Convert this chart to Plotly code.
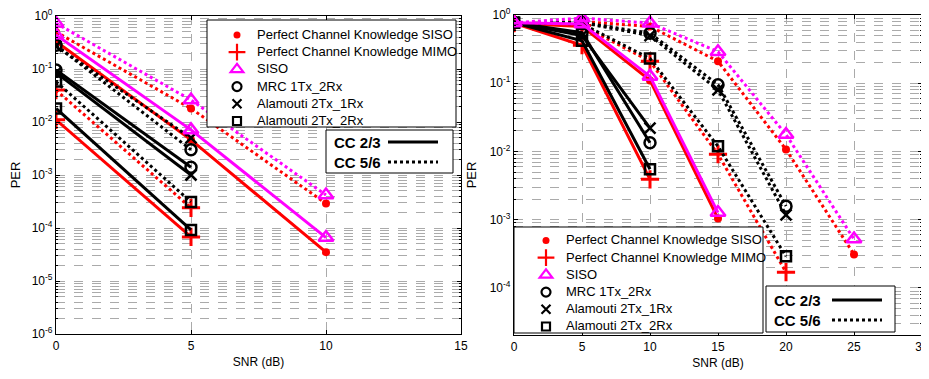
import plotly.graph_objects as go

# ---------------- data ----------------
snr_left = [0, 5, 10]
snr_right = [0, 5, 10, 15, 20, 25]

# Left panel, CC 2/3 (solid)
L23_pck_siso = [0.33, 4.6e-3, 3.5e-5]
L23_pck_mimo = [0.011, 6.8e-5]
L23_siso = [0.44, 7.1e-3, 6.6e-5]
L23_mrc = [0.096, 1.4e-3]
L23_ala21 = [0.085, 1.0e-3]
L23_ala22 = [0.018, 9.2e-5]
# Left panel, CC 5/6 (dotted)
L56_pck_siso = [0.5, 0.018, 2.9e-4]
L56_pck_mimo = [0.04, 2.4e-4]
L56_siso = [0.73, 0.026, 4.2e-4]
L56_mrc = [0.28, 3.0e-3]
L56_ala21 = [0.27, 5.0e-3]
L56_ala22 = [0.058, 3.1e-4]

# Right panel, CC 2/3 (solid)
R23_pck_siso = [0.76, 0.68, 0.11, 1.04e-3]
R23_pck_mimo = [0.76, 0.36, 3.9e-3]
R23_siso = [0.77, 0.74, 0.126, 1.27e-3]
R23_mrc = [0.77, 0.55, 0.0134]
R23_ala21 = [0.77, 0.5, 0.022]
R23_ala22 = [0.77, 0.42, 5.5e-3]
# Right panel, CC 5/6 (dotted)
R56_pck_siso = [0.77, 0.8, 0.68, 0.21, 0.0107, 3.1e-4]
R56_pck_mimo = [0.77, 0.7, 0.21, 9.1e-3, 1.7e-4]
R56_siso = [0.77, 0.9, 0.76, 0.29, 0.0177, 5.2e-4]
R56_mrc = [0.77, 0.78, 0.54, 0.095, 1.58e-3]
R56_ala21 = [0.77, 0.77, 0.5, 0.08, 1.18e-3]
R56_ala22 = [0.77, 0.74, 0.23, 0.0119, 2.9e-4]

legend_names = [
    "Perfect Channel Knowledge SISO",
    "Perfect Channel Knowledge MIMO",
    "SISO",
    "MRC 1Tx_2Rx",
    "Alamouti 2Tx_1Rx",
    "Alamouti 2Tx_2Rx",
]
code_rates = ["CC 2/3", "CC 5/6"]
xticks_left = [0, 5, 10, 15]
xticks_right = [0, 5, 10, 15, 20, 25, 30]
ytick_exps_left = [0, -1, -2, -3, -4, -5, -6]
ytick_exps_right = [0, -1, -2, -3, -4]

# ---------------- styles ----------------
RED = "rgb(255,0,0)"
MAG = "rgb(255,0,255)"
BLK = "rgb(0,0,0)"
styles = {
    "pck_siso": dict(color=RED, symbol="circle", size=8, lw=0, lsize=7),
    "pck_mimo": dict(color=RED, symbol="cross-thin", size=13, lw=3, lsize=12),
    "siso": dict(color=MAG, symbol="triangle-up-open", size=13, lw=2.5, lsize=11),
    "mrc": dict(color=BLK, symbol="circle-open", size=11, lw=2.5, lsize=9),
    "ala21": dict(color=BLK, symbol="x-thin", size=11, lw=2.5, lsize=9),
    "ala22": dict(color=BLK, symbol="square-open", size=10, lw=2.5, lsize=8),
}
order = ["pck_siso", "pck_mimo", "ala21", "mrc", "ala22", "siso"]

fig = go.Figure()

def add_series(x, y, key, dash, xa, ya):
    st = styles[key]
    fig.add_trace(go.Scatter(
        x=x[:len(y)], y=y, mode="lines+markers", xaxis=xa, yaxis=ya,
        showlegend=False,
        line=dict(color=st["color"], width=3, dash=dash),
        marker=dict(symbol=st["symbol"], size=st["size"], color=st["color"],
                    line=dict(color=st["color"], width=st["lw"])),
    ))

left = {
    "solid": dict(pck_siso=L23_pck_siso, pck_mimo=L23_pck_mimo, siso=L23_siso,
                  mrc=L23_mrc, ala21=L23_ala21, ala22=L23_ala22),
    "dot": dict(pck_siso=L56_pck_siso, pck_mimo=L56_pck_mimo, siso=L56_siso,
                mrc=L56_mrc, ala21=L56_ala21, ala22=L56_ala22),
}
right = {
    "solid": dict(pck_siso=R23_pck_siso, pck_mimo=R23_pck_mimo, siso=R23_siso,
                  mrc=R23_mrc, ala21=R23_ala21, ala22=R23_ala22),
    "dot": dict(pck_siso=R56_pck_siso, pck_mimo=R56_pck_mimo, siso=R56_siso,
                mrc=R56_mrc, ala21=R56_ala21, ala22=R56_ala22),
}

for key in order:
    for dash in ["dot", "solid"]:
        add_series(snr_left, left[dash][key], key, dash, "x", "y")
        add_series(snr_right, right[dash][key], key, dash, "x2", "y2")

# legend proxies (marker only); entries split over two interleaved legends
keys_legend = ["pck_siso", "pck_mimo", "siso", "mrc", "ala21", "ala22"]
for (lgA, lgB), xa, ya in [(("legend", "legend2"), "x", "y"),
                           (("legend3", "legend4"), "x2", "y2")]:
    for i, (key, name) in enumerate(zip(keys_legend, legend_names)):
        st = styles[key]
        fig.add_trace(go.Scatter(
            x=[None], y=[None], mode="markers",
            name="<span style='font-size:13px'>%s</span>" % name,
            legend=lgA if i % 2 == 0 else lgB,
            legendgroup="%s_%d" % (xa, i),
            xaxis=xa, yaxis=ya,
            marker=dict(symbol=st["symbol"], size=st["lsize"], color=st["color"],
                        line=dict(color=st["color"], width=2.2 if st["lw"] else 0)),
        ))

# The page body has an 8px margin, so the figure is offset by 8px.
BODY = 8
W, H = 929 - BODY, 379 - BODY
def px(xp):
    return (xp - BODY) / W
def py(yp):
    return 1 - (yp - BODY) / H

GRID = "rgb(170,170,170)"
FAM = "Liberation Sans, Arial"
tickfont = dict(family=FAM, size=12, color="black")

def xaxis_cfg(domain, rng, ticks, anchor):
    return dict(domain=domain, range=rng, anchor=anchor, automargin=False,
                ticklabeloverflow="allow",
                tickvals=ticks, ticktext=[str(t) for t in ticks],
                showline=True, mirror="ticks", linecolor="black", linewidth=1.2,
                ticks="inside", ticklen=4, tickcolor="black", tickfont=tickfont,
                showgrid=True, gridcolor=GRID, griddash="dash", gridwidth=1,
                zeroline=False,
                title=dict(text="SNR (dB)", font=dict(family=FAM, size=12, color="black"), standoff=6))

def yaxis_cfg(domain, rng, exps, anchor):
    return dict(domain=domain, type="log", range=rng, anchor=anchor, automargin=False,
                ticklabeloverflow="allow",
                tickvals=[10.0 ** e for e in exps],
                ticktext=["10<sup>%d</sup>" % e for e in exps],
                showline=True, mirror="ticks", linecolor="black", linewidth=1.2,
                ticks="inside", ticklen=4, tickcolor="black", tickfont=tickfont,
                showgrid=True, gridcolor=GRID, griddash="dash", gridwidth=1,
                minor=dict(dtick="D1", showgrid=True, gridcolor=GRID, griddash="dash",
                           ticks="inside", ticklen=2, tickcolor="black"),
                zeroline=False,
                title=dict(text="PER", font=dict(family=FAM, size=13, color="black"), standoff=10))

ROW = 17.2
legend_common = dict(xanchor="left", yanchor="top", bgcolor="rgba(0,0,0,0)",
                     borderwidth=0, traceorder="grouped",
                     tracegroupgap=2 * ROW - 19,
                     font=dict(size=10, family=FAM, color="black"))
OFF_L = 10.5  # legend top -> first item text centre
OFF_R = 12.0
fig.update_layout(
    width=W, height=H,
    margin=dict(l=0, r=0, t=0, b=0, pad=0, autoexpand=False),
    paper_bgcolor="white", plot_bgcolor="white",
    font=dict(family=FAM, color="black"),
    xaxis=xaxis_cfg([px(56), px(461)], [0, 15], xticks_left, "y"),
    yaxis=yaxis_cfg([py(334), py(16)], [-6, 0], ytick_exps_left, "x"),
    xaxis2=xaxis_cfg([px(514), px(922)], [0, 30], xticks_right, "y2"),
    yaxis2=yaxis_cfg([py(335), py(15)], [-4.69, 0], ytick_exps_right, "x2"),
    legend=dict(x=px(217), y=py(31 - OFF_L), **legend_common),
    legend2=dict(x=px(217), y=py(31 + ROW - OFF_L), **legend_common),
    legend3=dict(x=px(526), y=py(238 - OFF_R), **legend_common),
    legend4=dict(x=px(526), y=py(238 + ROW - OFF_R), **legend_common),
)

# legend frames and code-rate key boxes (legend decoration)
shapes = [
    dict(type="rect", xref="paper", yref="paper", x0=px(207), x1=px(456),
         y0=py(127), y1=py(20), line=dict(color="black", width=1),
         fillcolor="white", layer="above"),
    dict(type="rect", xref="paper", yref="paper", x0=px(514), x1=px(763),
         y0=py(333), y1=py(227), line=dict(color="black", width=1),
         fillcolor="white", layer="above"),
]
annots = []
for (bx0, bx1, by0, by1, tx, ly1, ly2, lx0, lx1) in [
    (326, 453, 130, 173, 332, 142, 162, 388, 438),
    (766, 895, 286, 332, 772, 300, 320, 832, 882),
]:
    shapes.append(dict(type="rect", xref="paper", yref="paper",
                       x0=px(bx0), x1=px(bx1), y0=py(by1), y1=py(by0),
                       line=dict(color="black", width=1), fillcolor="white", layer="above"))
    for ly, dash in [(ly1, "solid"), (ly2, "dot")]:
        shapes.append(dict(type="line", xref="paper", yref="paper",
                           x0=px(lx0), x1=px(lx1), y0=py(ly), y1=py(ly),
                           line=dict(color="black", width=3, dash=dash), layer="above"))
    for ly, txt in zip([ly1, ly2], code_rates):
        annots.append(dict(xref="paper", yref="paper", x=px(tx), y=py(ly),
                           xanchor="left", yanchor="middle", showarrow=False,
                           text="<b>%s</b>" % txt,
                           font=dict(size=15, family=FAM, color="black")))
fig.update_layout(shapes=shapes, annotations=annots)

fig.write_html("out.html")
